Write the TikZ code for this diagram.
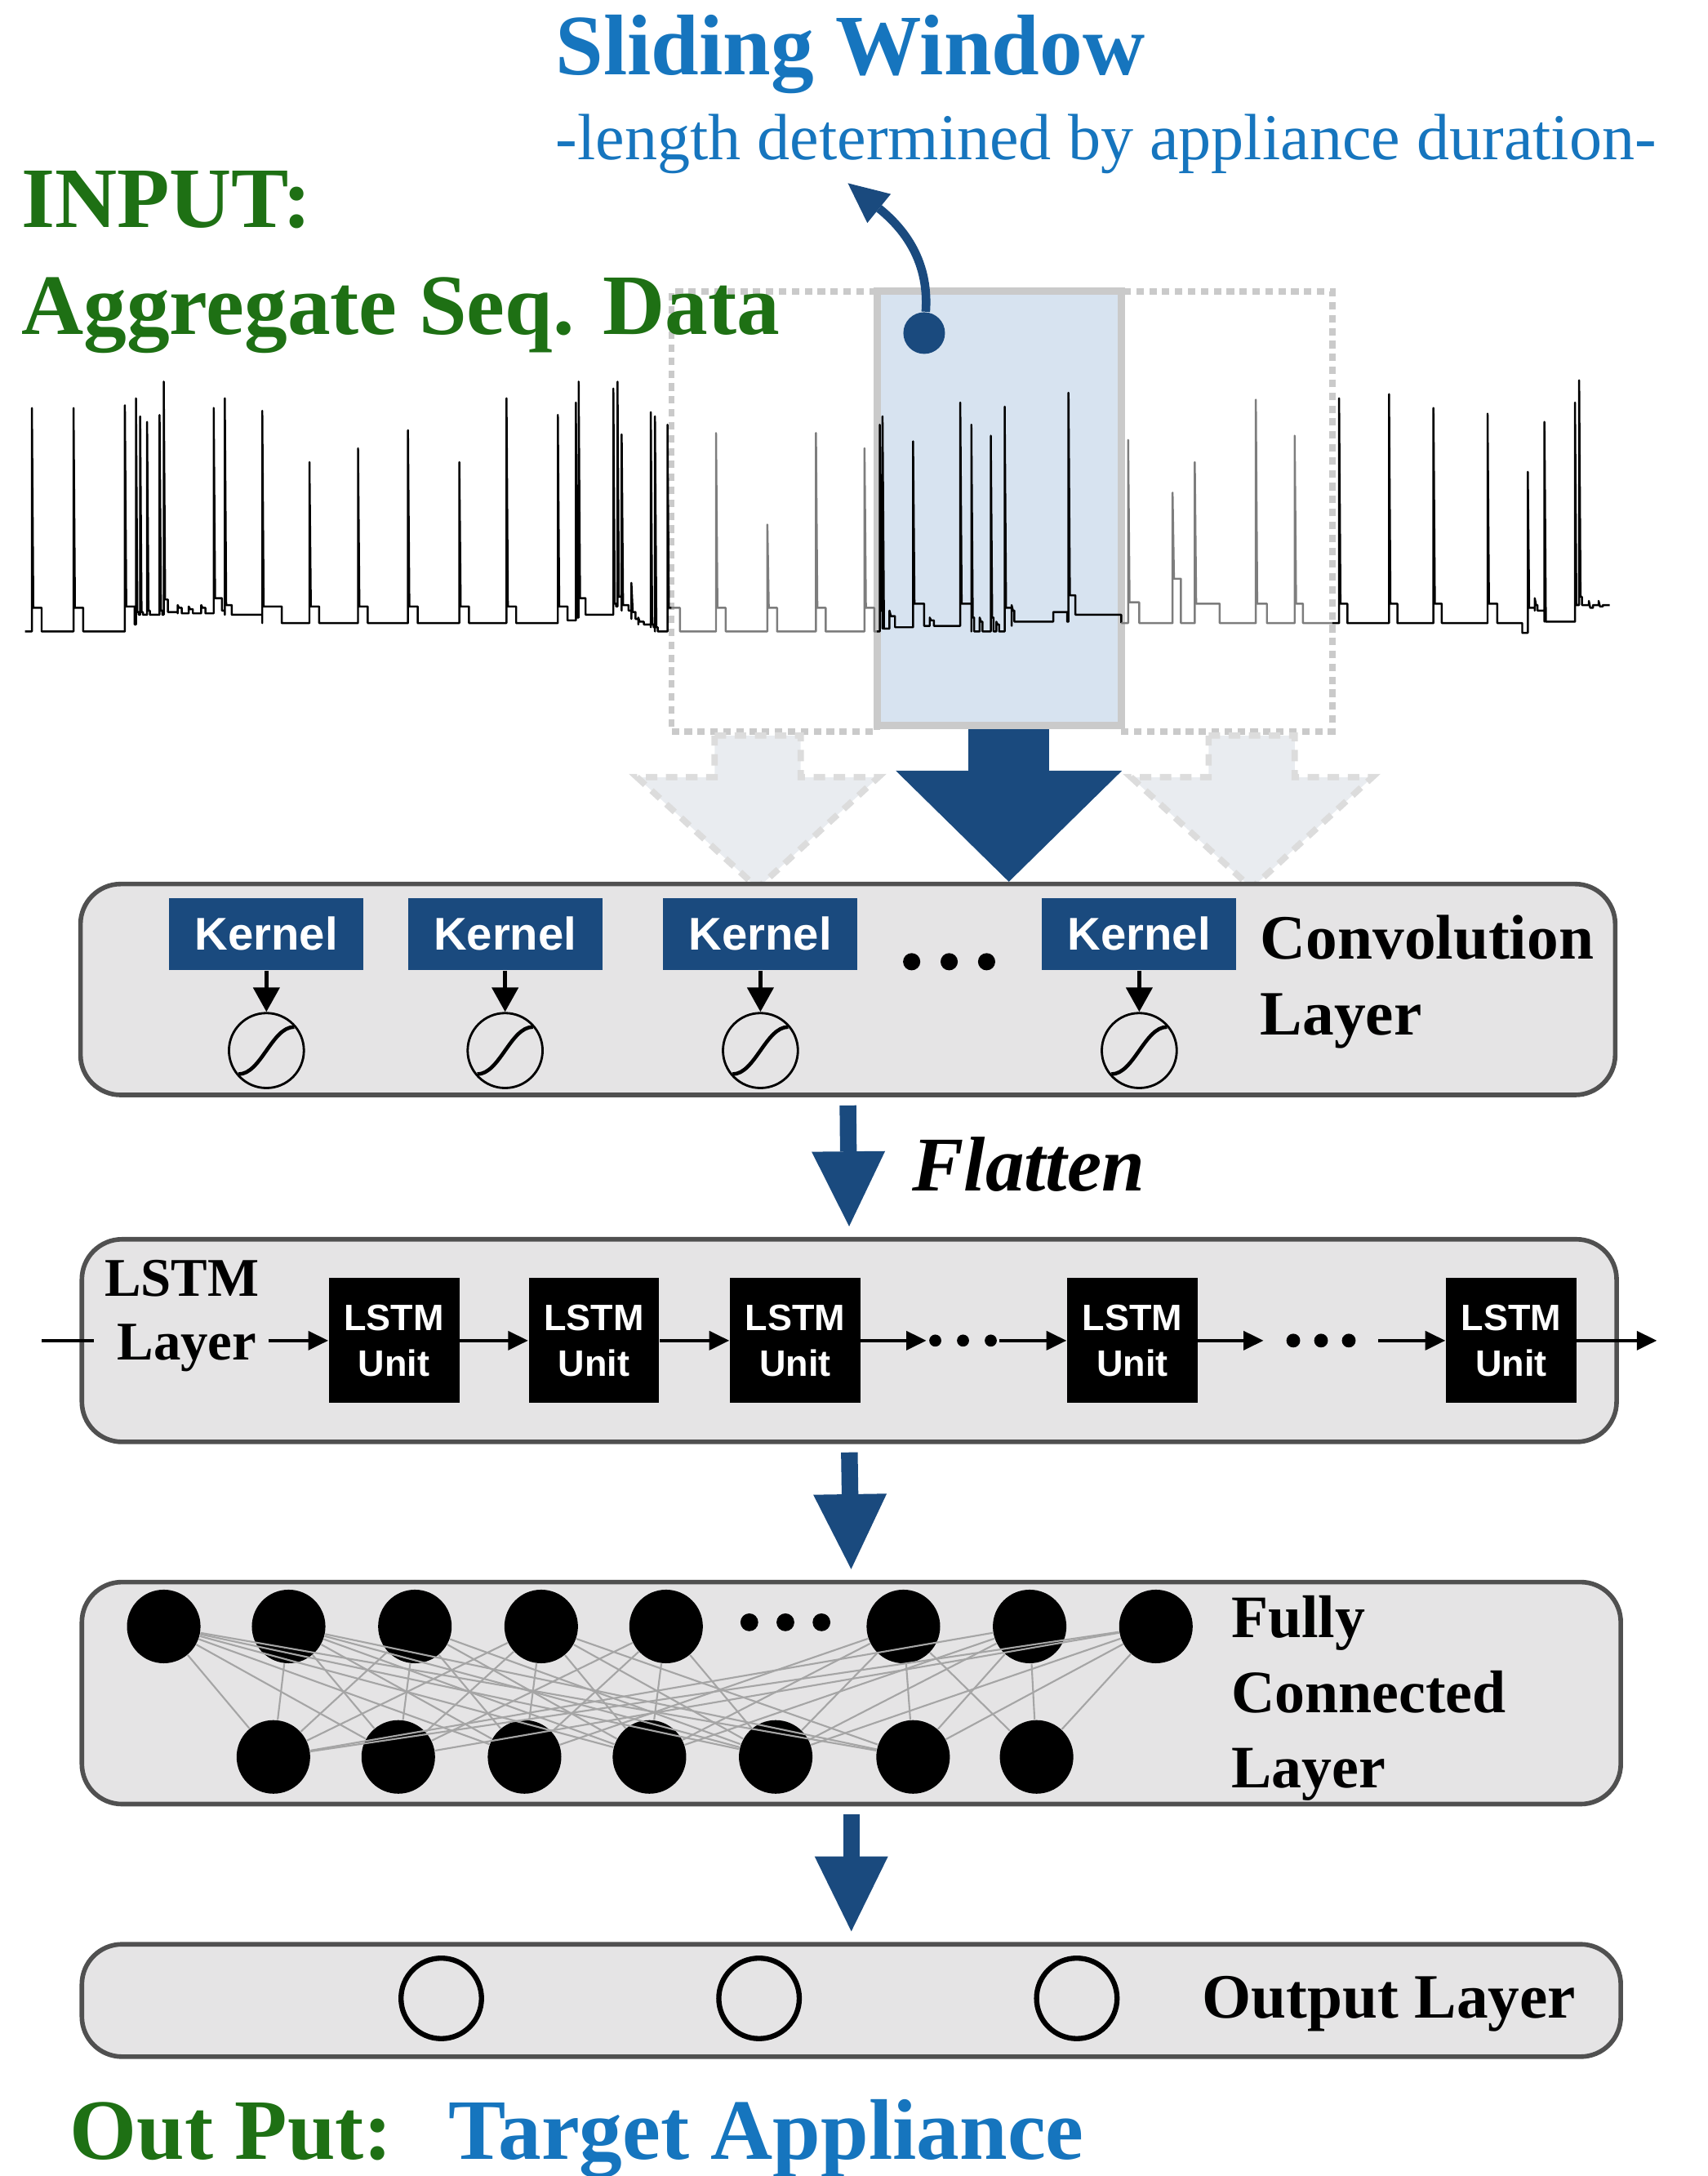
\documentclass[tikz,border=0pt]{standalone}
\usepackage{fontspec}
\setmainfont{Liberation Serif}
\setsansfont{Liberation Sans}
\usetikzlibrary{arrows.meta}
\usetikzlibrary{positioning}
\usetikzlibrary{fit}
\definecolor{swblue}{RGB}{22,117,190}
\definecolor{ingreen}{RGB}{30,112,20}
\definecolor{deepblue}{RGB}{26,74,126}
\definecolor{layergray}{RGB}{229,228,229}
\definecolor{edgegray}{RGB}{80,80,80}
\definecolor{winblue}{RGB}{215,227,240}
\definecolor{wingray}{RGB}{202,202,202}
\definecolor{ghostfill}{RGB}{233,236,240}
\definecolor{ghostline}{RGB}{220,220,220}
\definecolor{wiregray}{RGB}{165,165,165}
\definecolor{tracegray}{RGB}{125,125,125}
\newcommand{\px}{0.017cm}
\newcommand{\sigtrace}[4]{%
  \draw [#1] #2 \foreach \x/\pk/\dx/\sh/\bl in {#3}
    {-| (\x, \bl) -- (\x, \pk) -- (\x + 1, \sh) -- (\x + \dx, \sh) -- (\x + \dx, \bl)} -| #4;}
\tikzset{title/.style = {font = \bfseries\fontsize{30}{36}\selectfont, inner sep = 0, anchor = base west}}
\tikzset{caption/.style = {font = \bfseries\fontsize{22}{26}\selectfont, inner sep = 0, anchor = base west}}
\tikzset{layer/.style = {draw = edgegray, line width = 1.6pt, fill = layergray, rounded corners = 14pt, inner sep = 0}}

\begin{document}
\begin{tikzpicture}[x = 0.017cm, y = -0.017cm,
    ghostwin/.style = {draw = wingray, line width = 2.2pt, dash pattern = on 2.6pt off 1.9pt, inner sep = 0},
    win/.style = {draw = wingray, line width = 2.6pt, fill = winblue, inner sep = 0},
    ghost/.style = {draw = ghostline, line width = 2.2pt, dash pattern = on 4pt off 3pt, fill = ghostfill},
    sig/.style = {line width = 0.7pt, line join = round},
    kernel/.style = {fill = deepblue, text = white, font = \sffamily\bfseries\fontsize{16}{19}\selectfont,
                     minimum width = 140*\px, minimum height = 52*\px, inner sep = 0},
    act/.style = {circle, draw, line width = 0.8pt, minimum size = 54*\px, inner sep = 0,
                  path picture = {\draw [line width = 1.3pt]
                    ([shift = {(-20, 17)}] path picture bounding box.center)
                    .. controls ([shift = {(-4, 17)}] path picture bounding box.center)
                    and ([shift = {(4, -17)}] path picture bounding box.center)
                    .. ([shift = {(20, -17)}] path picture bounding box.center);}},
    unit/.style = {fill = black, text = white, align = center, font = \sffamily\bfseries\fontsize{12.8}{16}\selectfont,
                   minimum width = 94*\px, minimum height = 90*\px, inner sep = 0},
    neuron/.style = {circle, fill, minimum size = 53*\px, inner sep = 0},
    outnode/.style = {circle, draw, line width = 1.8pt, minimum size = 58*\px, inner sep = 0},
    wire/.style = {draw = wiregray, line width = 0.6pt},
    link/.style = {line width = 1.2pt, -{Triangle[length = 7pt, width = 6.5pt]}},
    feed/.style = {line width = 1.5pt, -{Triangle[length = 8.5pt, width = 9pt]}},
    flow/.style = {deepblue, line width = 0.204cm, -{Triangle[length = 0.918cm, width = 0.9cm, line width = 0pt]},
                   shorten <= 0.1cm, shorten >= 0.13cm},
    bigflow/.style = {deepblue, line width = 0.986cm, -{Triangle[length = 1.36cm, width = 2.771cm, line width = 0pt]}},
    pointer/.style = {deepblue, line width = 3pt, -{Triangle[length = 14pt, width = 13pt, line width = 0pt]}},
    knob/.style = {circle, fill = deepblue, minimum size = 30*\px, inner sep = 0}]
  \useasboundingbox (0, 0) rectangle (1230.3, 1568);

  \node [ghostwin, fit = {(484, 210) (632, 527)}] (wl) {};
  \node [ghostwin, fit = {(808, 210) (960, 527)}] (wr) {};
  \node [win, fit = {(632, 210) (808, 523)}] (win) {};

  \sigtrace{sig}{(18, 455)}{23/294/7/438/455, 53/294/7/438/455, 90/292/7/437/450, 98/287/2/441/443,
    101/300/2/441/443, 106/304/2/440/443, 115/299/2/440/443, 118/275/3/432/441, 128/436/3/438/442,
    136/437/3/439/442, 145/436/3/438/442, 154/294/6/431/440, 162/287/5/436/443, 189/296/14/437/449,
    223/333/7/437/449, 258/323/7/437/449, 294/310/7/437/449, 331/333/7/437/449, 365/287/7/437/449,
    402/299/7/437/447, 415/290/1/440/445, 417/275/5/431/443, 442/280/2/435/437, 445/275/3/430/432,
    448/313/5/436/440, 455/420/3/441/446, 460/445/4/448/450, 469/297/2/450/452, 472/300/2/452/455,
    481/306/3/438/438}{(484, 438)}
  \sigtrace{sig, tracegray}{(484, 438) -- (490, 438) -- (490, 455)}{516/312/7/438/455, 553/378/7/438/455,
    588/312/7/438/455, 623/323/7/438/455}{(632, 455)}
  \sigtrace{sig}{(632, 455)}{634/306/2/440/453, 636/300/1/445/453, 641/440/4/444/452, 658/318/8/435/451,
    670/445/3/447/451, 692/290/8/435/451, 700/306/2/445/455, 706/445/2/448/455, 714/314/2/445/455,
    718/448/2/450/455, 724/293/5/438/451, 729/436/2/440/448, 759/441/10/441/448,
    770/283/5/429/443}{(808, 449)}
  \sigtrace{sig, tracegray}{(808, 449)}{813/317/8/434/449, 845/355/6/417/449, 861/333/18/435/449,
    905/288/8/435/449, 933/314/6/435/449}{(960, 449)}
  \sigtrace{sig}{(960, 449)}{965/287/6/435/449, 1001/284/6/435/449, 1033/294/6/435/449,
    1072/298/7/435/449, 1097/456/1/456/456, 1101/340/3/438/438, 1106/431/2/436/440,
    1113/304/3/448/448, 1135/290/2/436/436, 1138/274/2/430/436, 1145/433/3/438/436,
    1152/433/3/437/436}{(1160, 436)}

  \node [title, text = swblue] (sw) at (400, 54) {Sliding Window};
  \node [caption, text = swblue, font = \fontsize{22.8}{27}\selectfont] (len) at (400, 115)
    {-length determined by appliance duration-};
  \node [title, text = ingreen] (inp) at (15, 164) {INPUT:};
  \node [title, text = ingreen] (agg) at (15, 241) {Aggregate Seq. Data};

  \node [knob] (knob) at (666, 240) {};
  \coordinate (tip) at (611, 132);
  \draw [pointer] (knob) .. controls (670, 185) and (648, 162) .. (tip);

  \coordinate (gl) at (546, 530);
  \coordinate (gr) at (902, 530);
  \foreach \g in {gl, gr}
    \draw [ghost] (\g) ++(-31, 0) -- ++(62, 0) -- ++(0, 30) -- ++(56, 0) -- ++(-87, 80)
      -- ++(-87, -80) -- ++(56, 0) -- cycle;

  \node [layer, fit = {(58, 637) (1164, 789)}] (conv) {};
  \node [layer, fit = {(59, 893) (1165, 1039)}] (lstm) {};
  \node [layer, fit = {(59, 1140) (1168, 1300)}] (fc) {};
  \node [layer, fit = {(59, 1401) (1168, 1482)}] (out) {};

  \draw [bigflow] ([xshift = 3.4pt] win.south) -- ([xshift = 3.4pt] win.south |- conv.north);

  \foreach \i/\x in {1/192, 2/364, 3/548, 4/821} {
    \node [kernel] (k\i) at (\x, 673) {Kernel};
    \node [act] (a\i) at (\x, 757) {};
    \draw [feed] (k\i) -- (a\i);
  }
  \foreach \x in {657, 684, 711}
    \fill (\x, 693) circle (3pt);
  \node [caption] (cl1) at (908, 691) {Convolution};
  \node [caption] (cl2) at (908, 746) {Layer};

  \draw [flow] (conv.south) -- (lstm.north);
  \node [caption, font = \bfseries\itshape\fontsize{27}{32}\selectfont] (flat) at (657, 858) {Flatten};

  \node [caption, font = \bfseries\fontsize{19}{23}\selectfont] (lstmlbl) at (75, 934) {LSTM};
  \node [caption, font = \bfseries\fontsize{19}{23}\selectfont] (lay) at (84, 980) {Layer};
  \foreach \i/\x in {1/284, 2/428, 3/573, 4/816, 5/1089}
    \node [unit] (u\i) at (\x, 966) {LSTM\\Unit};
  \node [minimum width = 52*\px, inner sep = 0] (d1) at (694, 966) {};
  \node [minimum width = 82*\px, inner sep = 0] (d2) at (952, 966) {};
  \foreach \x in {-20, 0, 20} {
    \fill (d1) ++(\x, 0) circle (2.1pt);
    \fill (d2) ++(\x, 0) circle (2.4pt);
  }
  \coordinate (in) at (30, 966);
  \coordinate (outp) at (1194, 966);
  \draw [line width = 1.2pt, shorten >= 8pt] (in) -- (in -| lay.west);
  \draw [link, shorten <= 4pt] (lay.east |- u1.west) -- (u1.west);
  \draw [link] (u1) -- (u2);
  \draw [link] (u2) -- (u3);
  \draw [link] (u3) -- (d1);
  \draw [link] (d1) -- (u4);
  \draw [link] (u4) -- (d2);
  \draw [link] (d2) -- (u5);
  \draw [link] (u5) -- (outp);

  \draw [flow] (lstm.south) -- (fc.north);
  \foreach \i/\x in {1/118, 2/208, 3/299, 4/390, 5/480, 6/651, 7/742, 8/833}
    \node [neuron] (t\i) at (\x, 1172) {};
  \foreach \i/\x in {1/197, 2/287, 3/378, 4/468, 5/559, 6/658, 7/747}
    \node [neuron] (b\i) at (\x, 1266) {};
  \foreach \i/\js in {1/{1,2,3,4,5,6}, 2/{1,2,3,4,5,6}, 3/{1,2,3,4,5}, 4/{1,2,3,4,5,6},
                      5/{2,3,4,5}, 6/{3,4,5,6,7}, 7/{1,4,5,6,7}, 8/{1,2,5,6,7}}
    \foreach \j in \js
      \draw [wire] (t\i) -- (b\j);
  \foreach \x in {540, 566, 592}
    \fill (\x, 1169) circle (3.1pt);
  \node [caption, font = \bfseries\fontsize{21}{25}\selectfont] (fl1) at (887, 1180) {Fully};
  \node [caption, font = \bfseries\fontsize{21}{25}\selectfont] (fl2) at (887, 1234) {Connected};
  \node [caption, font = \bfseries\fontsize{21}{25}\selectfont] (fl3) at (887, 1288) {Layer};

  \draw [flow] (fc.south) -- (out.north);
  \foreach \i/\x in {1/318, 2/547, 3/776}
    \node [outnode] (o\i) at (\x, 1440) {};
  \node [caption] (ol) at (866, 1454) {Output Layer};

  \node [title, text = ingreen] (op) at (50, 1556) {Out Put:};
  \node [title, text = swblue] (ta) at (323, 1556) {Target Appliance};
\end{tikzpicture}
\end{document}
